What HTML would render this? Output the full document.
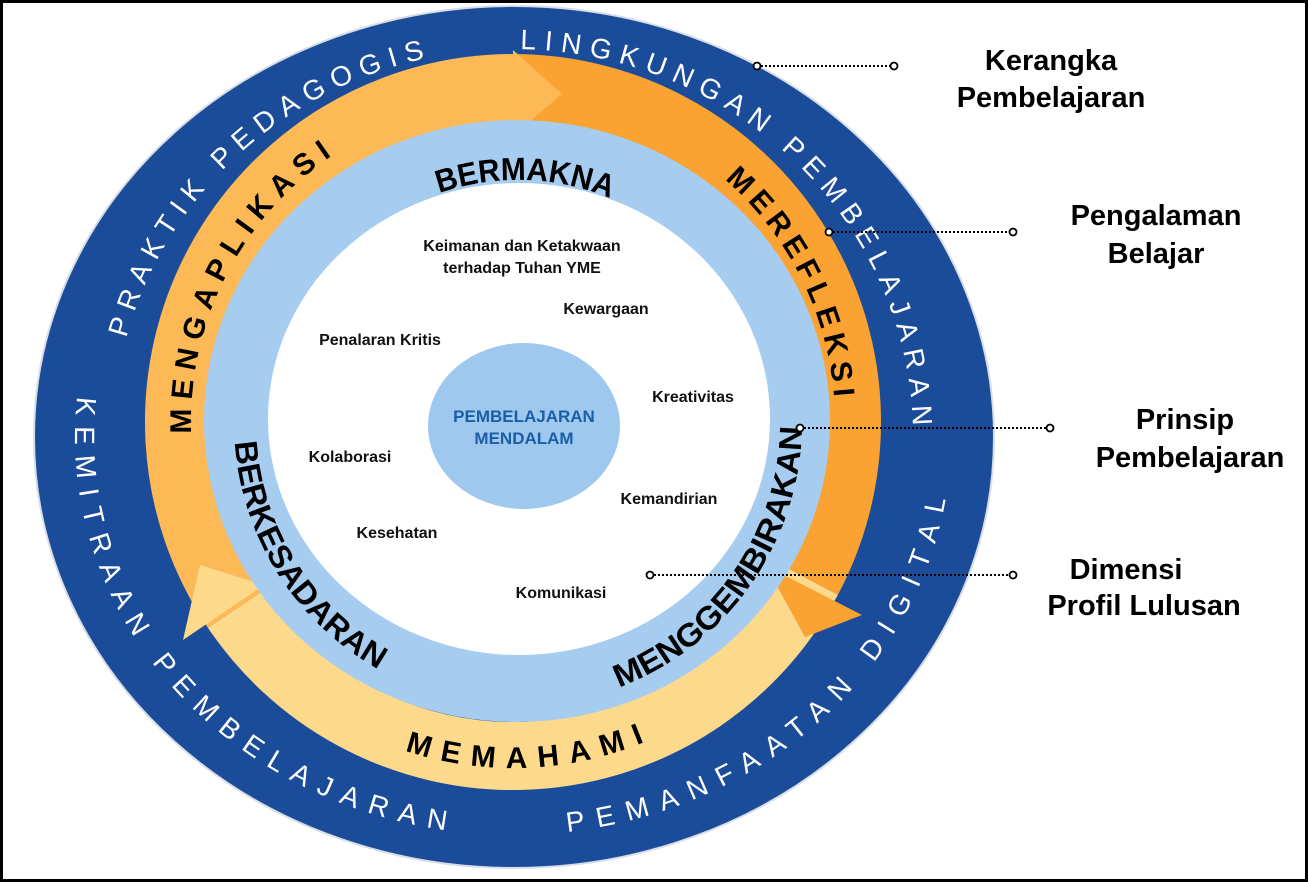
<!DOCTYPE html>
<html><head><meta charset="utf-8"><style>
html,body{margin:0;padding:0;background:#fff;}
svg{display:block;}
</style></head><body>
<svg width="1308" height="882" viewBox="0 0 1308 882" xmlns="http://www.w3.org/2000/svg">
<defs>
<path id="pTop" d="M113,437 A400,388 0 1 1 913,437 A400,388 0 1 1 113,437"/>
<path id="pBot" d="M513,39 A438,398 0 1 0 513,835 A438,398 0 1 0 513,39"/>
<path id="oCw" d="M513,744 A322,322 0 1 1 513,100 A322,322 0 1 1 513,744"/>
<path id="oCcw" d="M513,76 A346,346 0 1 0 513,768 A346,346 0 1 0 513,76"/>
<path id="bCw" d="M518,664 A242,242 0 1 1 518,180 A242,242 0 1 1 518,664"/>
<path id="bCcw" d="M518,138 A284,284 0 1 0 518,706 A284,284 0 1 0 518,138"/>
</defs>
<rect x="0" y="0" width="1308" height="882" fill="#fff"/>
<ellipse cx="514" cy="437" rx="480" ry="431" fill="#1a4c9a"/>
<ellipse cx="514" cy="437" rx="480" ry="431" fill="none" stroke="#d8dde6" stroke-width="2"/>
<g fill="none" stroke-width="68" stroke-linecap="butt">
 <path d="M807.9,578.8 A334,334 0 0 1 236.1,608.8" stroke="#fdd98b"/>
 <path d="M236.1,608.8 A334,334 0 0 1 513,88" stroke="#fcb955"/>
 <path d="M513,88 A334,334 0 0 1 807.9,578.8" stroke="#faa232"/>
</g>
<polygon points="513,50 513,136 562,94" fill="#fcb955"/>
<polygon points="766,566 862,615 805,637" fill="#faa232"/>
<polygon points="183,640 264,585 200,565" fill="#fdd98b"/>
<ellipse cx="517" cy="421" rx="313" ry="301" fill="#a6cdf0"/>
<ellipse cx="519" cy="419" rx="251" ry="236" fill="#fff"/>
<ellipse cx="524" cy="426" rx="96" ry="83" fill="#9fc8ee"/>
<text x="524" y="422" text-anchor="middle" font-family="Liberation Sans, sans-serif" font-weight="bold" font-size="17" fill="#1a5ea8">PEMBELAJARAN</text>
<text x="524" y="444" text-anchor="middle" font-family="Liberation Sans, sans-serif" font-weight="bold" font-size="17" fill="#1a5ea8">MENDALAM</text>
<g font-family="Liberation Sans, sans-serif" font-size="28" fill="#fff">
 <text><textPath href="#pTop" startOffset="100" textLength="430" lengthAdjust="spacing">PRAKTIK PEDAGOGIS</textPath></text>
 <text><textPath href="#pTop" startOffset="626" textLength="600" lengthAdjust="spacing">LINGKUNGAN PEMBELAJARAN</textPath></text>
 <text><textPath href="#pBot" startOffset="616" textLength="630" lengthAdjust="spacing">KEMITRAAN PEMBELAJARAN</textPath></text>
 <text><textPath href="#pBot" startOffset="1368" textLength="540" lengthAdjust="spacing">PEMANFAATAN DIGITAL</textPath></text>
</g>
<g font-family="Liberation Sans, sans-serif" font-weight="bold" font-size="30" fill="#000">
 <text><textPath href="#oCw" startOffset="494" textLength="325" lengthAdjust="spacing">MENGAPLIKASI</textPath></text>
 <text><textPath href="#oCw" startOffset="1242" textLength="250" lengthAdjust="spacing">MEREFLEKSI</textPath></text>
 <text text-anchor="middle"><textPath href="#oCcw" startOffset="1099" textLength="245" lengthAdjust="spacing">MEMAHAMI</textPath></text>
</g>
<g font-family="Liberation Sans Narrow, Liberation Sans, sans-serif" font-weight="bold" font-size="32" fill="#000">
 <text text-anchor="middle"><textPath href="#bCw" startOffset="767" textLength="175" lengthAdjust="spacingAndGlyphs">BERMAKNA</textPath></text>
 <text><textPath href="#bCcw" startOffset="466" textLength="280" lengthAdjust="spacingAndGlyphs">BERKESADARAN</textPath></text>
 <text><textPath href="#bCcw" startOffset="995" textLength="338" lengthAdjust="spacingAndGlyphs">MENGGEMBIRAKAN</textPath></text>
</g>
<g font-family="Liberation Sans, sans-serif" font-weight="bold" font-size="16" fill="#111" text-anchor="middle">
 <text x="522" y="251">Keimanan dan Ketakwaan</text>
 <text x="522" y="273">terhadap Tuhan YME</text>
 <text x="606" y="314">Kewargaan</text>
 <text x="380" y="345">Penalaran Kritis</text>
 <text x="693" y="402">Kreativitas</text>
 <text x="350" y="462">Kolaborasi</text>
 <text x="669" y="504">Kemandirian</text>
 <text x="397" y="538">Kesehatan</text>
 <text x="561" y="598">Komunikasi</text>
</g>
<g stroke="#000" stroke-width="2" stroke-dasharray="2,2" fill="none">
 <line x1="757" y1="66" x2="894" y2="66"/>
 <line x1="829" y1="232" x2="1013" y2="232"/>
 <line x1="800" y1="428" x2="1050" y2="428"/>
 <line x1="650" y1="575" x2="1013" y2="575"/>
</g>
<g stroke="#000" stroke-width="1.8" fill="#fff">
 <circle cx="757" cy="66" r="3.5"/><circle cx="894" cy="66" r="3.5"/>
 <circle cx="829" cy="232" r="3.5"/><circle cx="1013" cy="232" r="3.5"/>
 <circle cx="800" cy="428" r="3.5"/><circle cx="1050" cy="428" r="3.5"/>
 <circle cx="650" cy="575" r="3.5"/><circle cx="1013" cy="575" r="3.5"/>
</g>
<g font-family="Liberation Sans, sans-serif" font-weight="bold" font-size="29" fill="#000" text-anchor="middle">
 <text x="1051" y="70">Kerangka</text>
 <text x="1051" y="107">Pembelajaran</text>
 <text x="1156" y="225">Pengalaman</text>
 <text x="1156" y="263">Belajar</text>
 <text x="1185" y="429">Prinsip</text>
 <text x="1190" y="467">Pembelajaran</text>
 <text x="1126" y="579">Dimensi</text>
 <text x="1144" y="615">Profil Lulusan</text>
</g>
<rect x="1.5" y="1.5" width="1305" height="879" fill="none" stroke="#000" stroke-width="3"/>
</svg>
</body></html>
